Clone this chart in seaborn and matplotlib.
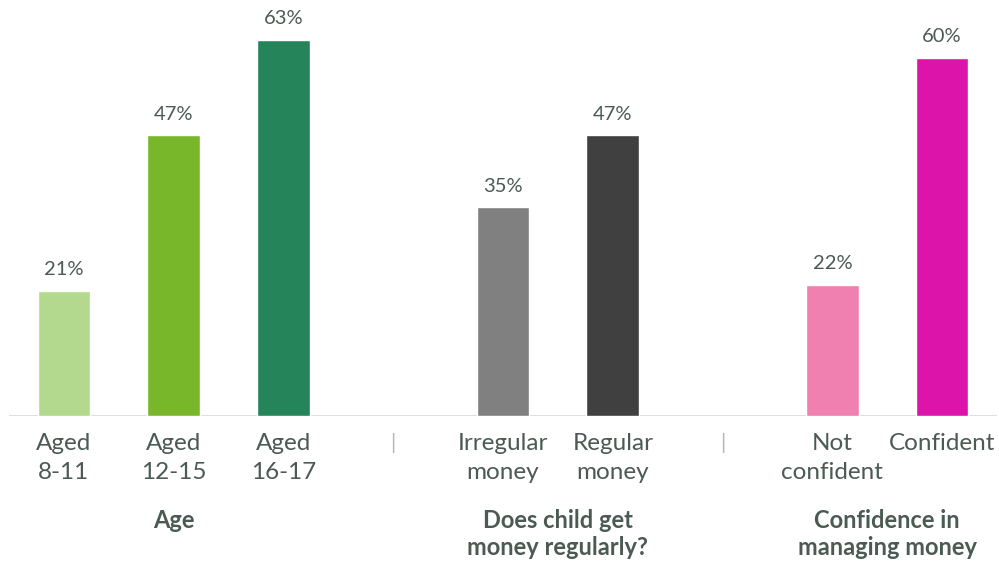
import numpy as np
import pandas as pd
import matplotlib
matplotlib.use("Agg")
import matplotlib.pyplot as plt
import seaborn as sns

# data
slots = ["Aged\n8-11", "Aged\n12-15", "Aged\n16-17", "sep1",
         "Irregular\nmoney", "Regular\nmoney", "sep2",
         "Not\nconfident", "Confident"]
categories = ["Aged\n8-11", "Aged\n12-15", "Aged\n16-17",
              "Irregular\nmoney", "Regular\nmoney",
              "Not\nconfident", "Confident"]
values = [21, 47, 63, 35, 47, 22, 60]
colors = ["#b3d98f", "#78b72a", "#26845a", "#808080", "#404040",
          "#f080b0", "#dc14aa"]
groups = ["Age", "Does child get\nmoney regularly?", "Confidence in\nmanaging money"]
group_pos = [1, 4.5, 7.5]

TEXT = "#4b5a52"

sns.set_theme(style="white")
plt.rcParams["font.family"] = ["Lato", "DejaVu Sans"]

df = pd.DataFrame({"cat": categories, "val": values})

fig = plt.figure(figsize=(9.99, 5.61), dpi=100)
ax = fig.add_axes([9 / 999, (561 - 416) / 561, 988 / 999, 412 / 561])

sns.barplot(data=df, x="cat", y="val", hue="cat", order=slots,
            palette=dict(zip(categories, colors)), width=0.48,
            legend=False, ax=ax, saturation=1)

ax.set_xlim(-0.5, len(slots) - 0.5)
ax.set_ylim(0, 69)
ax.axhline(0, color="#d5dada", lw=1.2, zorder=0)

for cont in ax.containers:
    ax.bar_label(cont, fmt="%d%%", padding=9, fontsize=14.5, color=TEXT)

ax.set_xticks(range(len(slots)))
labels = ["|" if s.startswith("sep") else s for s in slots]
ax.set_xticklabels(labels, fontsize=17.5, color=TEXT, linespacing=1.5)
for t, s in zip(ax.get_xticklabels(), slots):
    if s.startswith("sep"):
        t.set_color("#b0b8b4")
        t.set_fontsize(15)
ax.tick_params(axis="x", length=0, pad=12)
ax.set_yticks([])
ax.set_xlabel("")
ax.set_ylabel("")
sns.despine(ax=ax, left=True, bottom=True)

for g, p in zip(groups, group_pos):
    ax.text(p, -15.6, g, ha="center", va="top", fontsize=17,
            fontweight="bold", color=TEXT, linespacing=1.2)

fig.savefig("out.png", dpi=100)
